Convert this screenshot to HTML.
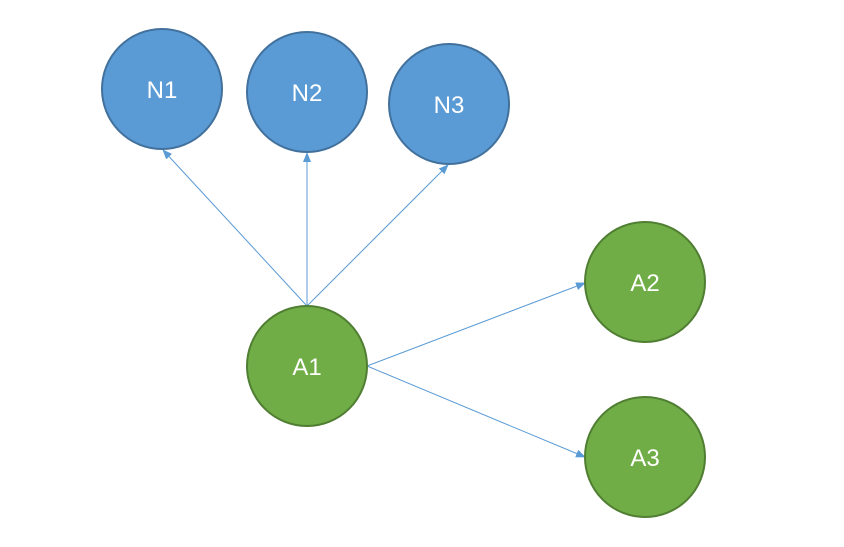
<!DOCTYPE html>
<html><head><meta charset="utf-8"><style>
html,body{margin:0;padding:0;background:#fff;}
svg{display:block;}
text{font-family:"Liberation Sans",sans-serif;font-size:24px;fill:#fff;}
</style></head><body>
<svg width="844" height="547" viewBox="0 0 844 547" xmlns="http://www.w3.org/2000/svg">
<defs>
<marker id="a" markerWidth="10" markerHeight="8" refX="9" refY="4" orient="auto" markerUnits="userSpaceOnUse">
<path d="M0,0 L10,4 L0,8 z" fill="#5B9BD5"/>
</marker>
</defs>
<g stroke="#5B9BD5" stroke-width="1" fill="none" marker-end="url(#a)">
<line x1="307" y1="306" x2="163" y2="150"/>
<line x1="307" y1="306" x2="307" y2="153"/>
<line x1="307" y1="306" x2="448" y2="165"/>
<line x1="367" y1="366" x2="585" y2="283"/>
<line x1="367" y1="366" x2="585" y2="457"/>
</g>
<g stroke-width="2">
<circle cx="162" cy="89" r="60" fill="#5B9BD5" stroke="#41719C"/>
<circle cx="307" cy="92" r="60" fill="#5B9BD5" stroke="#41719C"/>
<circle cx="449" cy="104" r="60" fill="#5B9BD5" stroke="#41719C"/>
<circle cx="307" cy="366" r="60" fill="#70AD47" stroke="#507E32"/>
<circle cx="645" cy="282" r="60" fill="#70AD47" stroke="#507E32"/>
<circle cx="645" cy="457" r="60" fill="#70AD47" stroke="#507E32"/>
</g>
<g text-anchor="middle">
<text x="162" y="98">N1</text>
<text x="307" y="101">N2</text>
<text x="449" y="113">N3</text>
<text x="307" y="375">A1</text>
<text x="645" y="291">A2</text>
<text x="645" y="466">A3</text>
</g>
</svg>
</body></html>
